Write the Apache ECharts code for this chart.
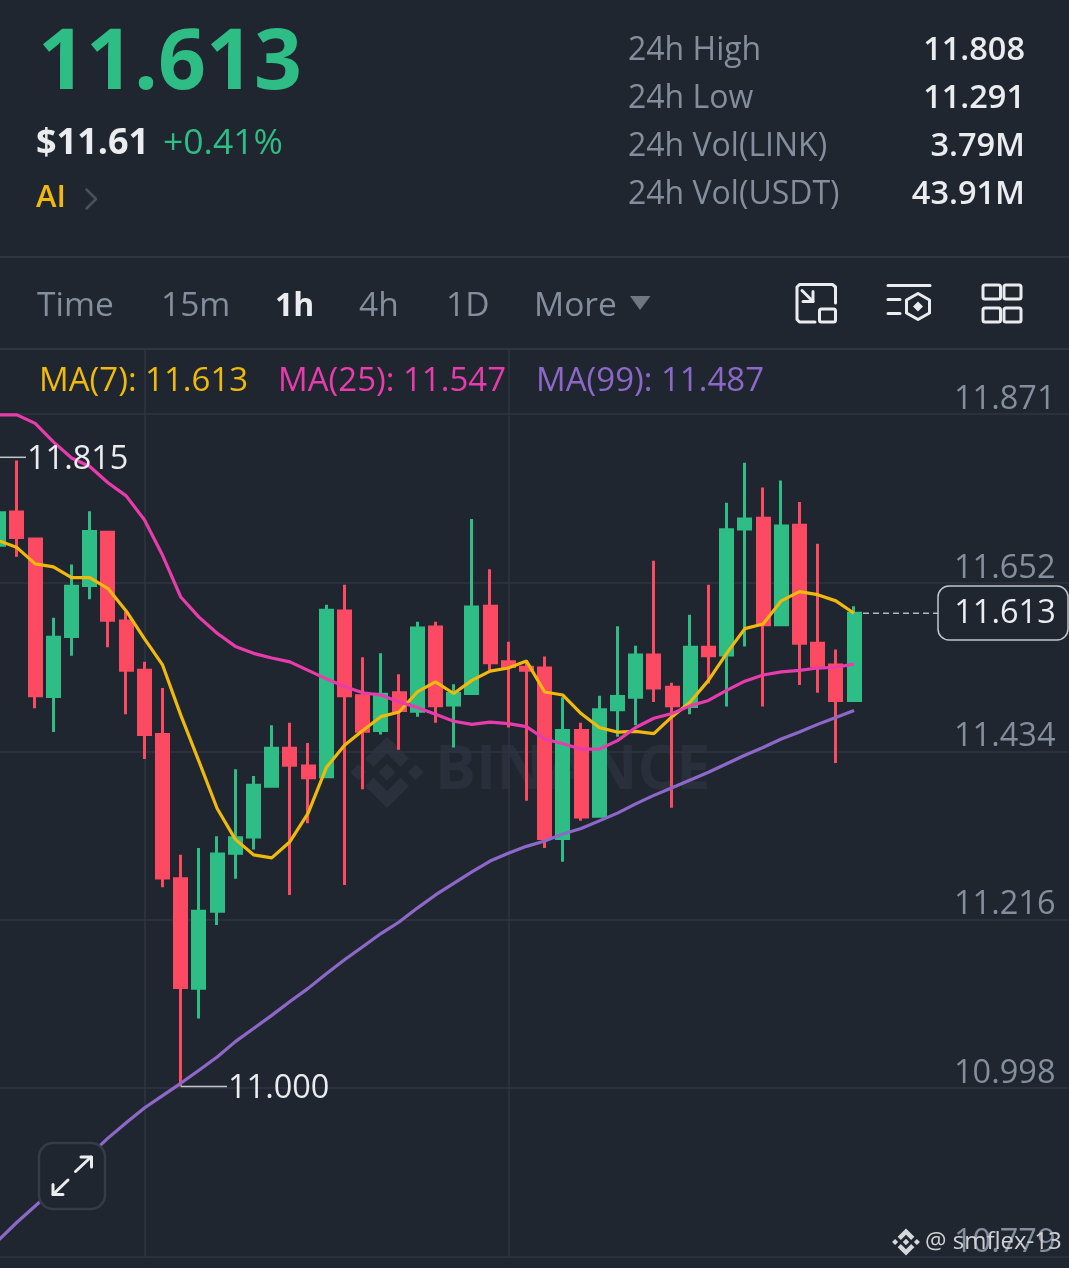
<!DOCTYPE html>
<html><head><meta charset="utf-8">
<style>html,body{margin:0;padding:0;background:#1f2630}#c{width:1069px;height:1268px}</style>
<script src="https://cdn.jsdelivr.net/npm/echarts@6/dist/echarts.min.js"></script>
</head><body><div id="c"></div>
<script>
// ---------- data ----------
const candleOpen  = [11.701,11.744,11.709,11.505,11.583,11.649,11.718,11.603,11.539,11.456,11.269,11.127,11.227,11.302,11.323,11.389,11.438,11.415,11.401,11.616,11.506,11.461,11.510,11.486,11.595,11.494,11.509,11.622,11.550,11.543,11.542,11.321,11.461,11.350,11.488,11.504,11.559,11.517,11.492,11.569,11.559,11.722,11.736,11.598,11.727,11.574,11.546,11.500];
const candleClose = [11.743,11.711,11.506,11.582,11.648,11.719,11.604,11.539,11.456,11.270,11.128,11.227,11.301,11.322,11.390,11.438,11.416,11.400,11.617,11.506,11.460,11.508,11.487,11.594,11.493,11.509,11.621,11.549,11.544,11.539,11.321,11.461,11.349,11.488,11.505,11.559,11.516,11.493,11.569,11.558,11.721,11.735,11.598,11.726,11.574,11.545,11.500,11.613];
const candleLow   = [11.691,11.686,11.490,11.459,11.558,11.631,11.569,11.482,11.424,11.258,11.000,11.088,11.209,11.269,11.307,11.387,11.248,11.341,11.401,11.261,11.385,11.456,11.436,11.479,11.471,11.439,11.509,11.539,11.465,11.370,11.309,11.291,11.344,11.350,11.453,11.468,11.498,11.361,11.482,11.522,11.492,11.570,11.492,11.597,11.520,11.510,11.419,11.500];
const candleHigh  = [11.767,11.811,11.709,11.607,11.676,11.745,11.718,11.615,11.550,11.516,11.300,11.309,11.324,11.411,11.402,11.468,11.471,11.445,11.624,11.650,11.556,11.561,11.534,11.602,11.602,11.521,11.735,11.670,11.576,11.552,11.557,11.504,11.471,11.506,11.596,11.571,11.681,11.523,11.611,11.650,11.756,11.808,11.776,11.785,11.757,11.703,11.566,11.622];
const ma7  = [11.707,11.698,11.677,11.673,11.659,11.659,11.645,11.616,11.580,11.546,11.481,11.421,11.360,11.320,11.300,11.296,11.317,11.354,11.413,11.442,11.461,11.479,11.485,11.511,11.524,11.509,11.526,11.538,11.542,11.551,11.511,11.507,11.483,11.465,11.459,11.460,11.457,11.479,11.498,11.526,11.561,11.593,11.599,11.629,11.641,11.637,11.629,11.613];
const ma25 = [11.870,11.870,11.859,11.835,11.814,11.803,11.782,11.765,11.734,11.688,11.634,11.608,11.587,11.570,11.561,11.555,11.550,11.539,11.528,11.518,11.510,11.507,11.498,11.491,11.482,11.473,11.469,11.472,11.470,11.466,11.450,11.444,11.437,11.437,11.448,11.465,11.477,11.483,11.493,11.500,11.513,11.525,11.533,11.537,11.539,11.542,11.543,11.547];
const ma99 = [10.801,10.824,10.845,10.866,10.888,10.911,10.933,10.953,10.972,10.988,11.004,11.021,11.038,11.058,11.075,11.092,11.110,11.127,11.146,11.164,11.181,11.198,11.213,11.231,11.248,11.263,11.278,11.292,11.302,11.311,11.318,11.327,11.334,11.344,11.354,11.366,11.377,11.387,11.397,11.407,11.418,11.429,11.439,11.450,11.459,11.469,11.478,11.487];
const priceTicks = [10.779,10.998,11.216,11.434,11.652,11.871];
const timeGridSlots = [8,28];
const slots = ['0','1','2','3','4','5','6','7','8','9','10','11','12','13','14','15','16','17','18','19','20','21','22','23','24','25','26','27','28','29','30','31','32','33','34','35','36','37','38','39','40','41','42','43','44','45','46','47','48','49','50','51','52','53','54','55','56','57','58','59'];
const lastPrice = 11.613, highMark = {slot:1, value:11.815}, lowMark = {slot:10, value:11.000};
const statLabels = ['24h High','24h Low','24h Vol(LINK)','24h Vol(USDT)'];
const statValues = ['11.808','11.291','3.79M','43.91M'];
const tabs = ['Time','15m','1h','4h','1D','More'];
const maLegend = ['MA(7): 11.613','MA(25): 11.547','MA(99): 11.487'];

// ---------- style ----------
const BG='#1f2630', LINE='#2f3541', GREY='#848e9c', WHITE='#eaecef', GREEN='#2ebd85', RED='#fb4a62', YEL='#f0b90b', PINK='#e93cac', PUR='#8d68c8';
const FF='"Open Sans", "Noto Sans", sans-serif';
const t=(text,x,y,size,fill,weight,align,z)=>({type:'text',silent:true,z:z==null?20:z,style:{text,x,y:y+1.5,fill,font:`${weight||400} ${size}px ${FF}`,textAlign:align||'left',textVerticalAlign:'middle'}});
const pl=(pts,stroke,w,z)=>({type:'polyline',silent:true,z:z==null?20:z,shape:{points:pts},style:{stroke,lineWidth:w,fill:null,lineCap:'round',lineJoin:'round'}});
const rr=(x,y,w,h,r,stroke,lw,fill,z)=>({type:'rect',silent:true,z:z==null?20:z,shape:{x,y,width:w,height:h,r},style:{stroke,lineWidth:lw,fill:fill||null}});
const pg=(pts,fill,z)=>({type:'polygon',silent:true,z:z==null?20:z,shape:{points:pts},style:{fill}});
function logo(cx,cy,k,fill,z){
  const p=(a)=>a.map(q=>[cx+q[0]*k,cy+q[1]*k]);
  return [
    pg(p([[0,-8.5],[8.5,0],[0,8.5],[-8.5,0]]),fill,z),
    pg(p([[-28.7,-8],[-20.7,0],[-28.7,8],[-36.7,0]]),fill,z),
    pg(p([[28.7,-8],[36.7,0],[28.7,8],[20.7,0]]),fill,z),
    pg(p([[0,-35.6],[22,-13.8],[13.5,-5.3],[0,-18.8],[-13.5,-5.3],[-22,-13.8]]),fill,z),
    pg(p([[0,35.6],[22,13.8],[13.5,5.3],[0,18.8],[-13.5,5.3],[-22,13.8]]),fill,z)
  ];
}
const statY=[49,97,145,193];
const tabX=[37,161,275,359,446,534];
const legX=[39,278,536];
const legC=[YEL,PINK,PUR];
let staticEls=[
  {type:'rect',silent:true,z:1,shape:{x:0,y:256,width:1069,height:2},style:{fill:LINE}},
  {type:'rect',silent:true,z:1,shape:{x:0,y:348,width:1069,height:2},style:{fill:LINE}},
  t('11.613',38,64,84,GREEN,700),
  t('$11.61',36,142,36,WHITE,700),
  t('+0.41%',163,142,35.5,GREEN,400),
  t('AI',36,197,31,YEL,600),
  pl([[86.5,189.5],[96,199],[86.5,208.5]],'#4b515c',2.5),
  ...statLabels.map((s,i)=>t(s,628,statY[i],32,GREY,400)),
  ...statValues.map((s,i)=>t(s,1025,statY[i],32.5,WHITE,600,'right')),
  ...tabs.map((s,i)=>t(s,tabX[i],305,i===2?32:33.5,i===2?WHITE:GREY,i===2?700:400)),
  pg([[630,296],[650.5,296],[640,310]],'#72777f'),
  // icon 1
  pl([[835.5,303],[835.5,287],[832.5,284.5],[799.5,284.5],[797,287],[797,319.5],[799.5,322],[815,322]],WHITE,3),
  rr(819.5,309,16,13,2,WHITE,3),
  pl([[802,290.5],[813,301.5]],WHITE,3),pl([[813,291.5],[813,301.5],[803,301.5]],WHITE,3),
  // icon 2
  pl([[888,285.5],[930,285.5]],WHITE,3),pl([[888,299.5],[900,299.5]],WHITE,3),pl([[888,313.5],[900,313.5]],WHITE,3),
  {type:'polygon',silent:true,z:20,shape:{points:[[918,293.5],[929.5,300],[929.5,313],[918,319.5],[906.5,313],[906.5,300]]},style:{stroke:WHITE,lineWidth:3,fill:null,lineJoin:'round'}},
  pg([[918,301.5],[923,306.5],[918,311.5],[913,306.5]],WHITE),
  // icon 3
  rr(983,285,17.5,14,2,WHITE,3),rr(1004,285,17,14,2,WHITE,3),rr(983,308,17.5,14,2,WHITE,3),rr(1004,308,17,14,2,WHITE,3),
  ...maLegend.map((s,i)=>t(s,legX[i],380,33,legC[i],400)),
  // watermark
  ...logo(387,772.3,1,'#2b313c',0),
  {type:'text',silent:true,z:0,style:{text:'BINANCE',x:435,y:772,fill:'#2a303b',font:`700 61px ${FF}`,textAlign:'left',textVerticalAlign:'middle'}},
  // expand button
  rr(39,1143,66,66,14,'#353b47',2.5,BG,15),
  pl([[75.5,1171.5],[91,1157]],WHITE,3),pl([[81,1157],[91.5,1157],[91.5,1167]],WHITE,3),
  pl([[68,1180],[53,1194.5]],WHITE,3),pl([[53,1184.5],[53,1194.5],[63,1194.5]],WHITE,3),
  // footer
  ...logo(906,1242,0.38,'#d5d7da',30),
  t('@ smflex-13',925,1241,24,'#cfd1d5',400,'left',30)
];

const chart=echarts.init(document.getElementById('c'),null,{renderer:'canvas'});
const option={
  animation:false,backgroundColor:BG,
  grid:{left:-10.3,top:350,width:1091.76,height:907,containLabel:false,outerBoundsMode:'none'},
  xAxis:{type:'category',data:slots,boundaryGap:true,axisLine:{show:false},axisTick:{show:false},axisLabel:{show:false},splitLine:{show:false}},
  yAxis:{type:'value',position:'right',scale:true,min:10.779,max:11.954,
    axisLine:{show:false},
    axisTick:{show:false,customValues:priceTicks},
    axisLabel:{customValues:priceTicks,inside:true,margin:26,color:GREY,fontFamily:FF,fontSize:32.5,fontWeight:400,align:'right',verticalAlign:'bottom',lineHeight:29,formatter:v=>v.toFixed(3),hideOverlap:false,showMinLabel:true,showMaxLabel:true},
    splitLine:{show:true,lineStyle:{color:LINE,width:1.5}}},
  series:[
    {type:'candlestick',name:'LINK/USDT',z:3,barWidth:12.5,
     data:candleOpen.map((o,i)=>[o,candleClose[i],candleLow[i],candleHigh[i]]),
     itemStyle:{color:GREEN,color0:RED,borderColor:GREEN,borderColor0:RED,borderWidth:3}},
    {type:'line',name:'MA7',z:4,data:ma7,showSymbol:false,lineStyle:{color:YEL,width:3.2},itemStyle:{color:YEL}},
    {type:'line',name:'MA25',z:5,data:ma25,showSymbol:false,lineStyle:{color:PINK,width:3.2},itemStyle:{color:PINK}},
    {type:'line',name:'MA99',z:6,data:ma99,showSymbol:false,lineStyle:{color:PUR,width:3.2},itemStyle:{color:PUR}},
    {type:'line',name:'time grid',z:1,data:[],markLine:{z:1,silent:true,symbol:'none',label:{show:false},lineStyle:{color:LINE,width:1.5,type:'solid'},data:timeGridSlots.map(s=>({xAxis:String(s)}))}}
  ],
  graphic:{elements:staticEls}
};
chart.setOption(option);

// annotations anchored on the chart's own scale
const Y=v=>chart.convertToPixel({yAxisIndex:0},v);
const X=s=>chart.convertToPixel({xAxisIndex:0},String(s));
const py=Y(lastPrice), hy=Y(highMark.value), ly=Y(lowMark.value);
const dyn=[
  {type:'line',silent:true,z:8,shape:{x1:X(47)+9,y1:py,x2:938,y2:py},style:{stroke:'#b4b7bc',lineWidth:1.5,lineDash:[6,4]}},
  rr(938,586,130,54,11,'#c4c6ca',1.5,BG,9),
  t(lastPrice.toFixed(3),1005,612,32.5,WHITE,400,'center',10),
  {type:'line',silent:true,z:8,shape:{x1:0,y1:hy,x2:26,y2:hy},style:{stroke:'#c4c6ca',lineWidth:1.5}},
  t(highMark.value.toFixed(3),27,458,32.5,WHITE,400,'left',10),
  {type:'line',silent:true,z:8,shape:{x1:X(lowMark.slot),y1:ly,x2:227,y2:ly},style:{stroke:'#c4c6ca',lineWidth:1.5}},
  t(lowMark.value.toFixed(3),228,1087,32.5,WHITE,400,'left',10)
];
chart.setOption({graphic:{elements:staticEls.concat(dyn)}});
</script></body></html>
